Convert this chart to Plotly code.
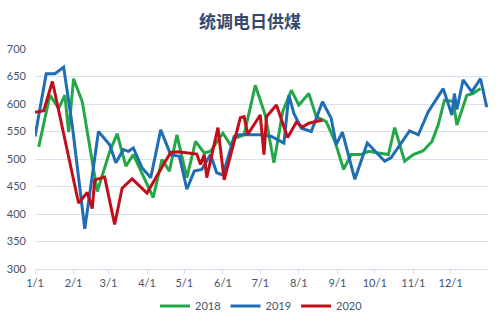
import pandas as pd
import plotly.graph_objects as go

# day-of-year offsets (0 = Jan 1) and values
days_2018 = [3, 12, 19, 24, 27, 31, 38, 50, 60, 66, 73, 79, 95, 102, 108, 114, 122, 129, 136, 141,
             151, 157, 161, 168, 177, 185, 192, 199, 206, 212, 220, 226, 234, 241, 248, 254, 262,
             268, 276, 284, 289, 297, 304, 312, 319, 324, 329, 336, 339, 347, 352, 358]
vals_2018 = [522, 616, 592, 616, 549, 646, 604, 441, 513, 546, 487, 508, 430, 499, 478, 544, 466, 532, 511, 514,
             547, 526, 538, 544, 634, 580, 493, 586, 625, 598, 619, 577, 568, 532, 481, 508, 508,
             514, 511, 508, 557, 496, 508, 515, 532, 562, 607, 605, 562, 616, 619, 628]

days_2019 = [0, 9, 16, 23, 30, 40, 51, 60, 65, 71, 75, 79, 86, 93, 101, 109, 116, 122, 128, 134, 141,
             146, 151, 160, 164, 181, 190, 200, 204, 208, 214, 222, 231, 238, 242, 247, 257, 267,
             281, 286, 301, 308, 316, 328, 335, 337, 339, 344, 351, 358, 363]
vals_2019 = [541, 655, 655, 667, 560, 373, 550, 526, 493, 517, 514, 520, 484, 466, 553, 508, 505, 445, 478, 481, 508,
             475, 471, 541, 544, 544, 541, 529, 616, 583, 556, 550, 604, 574, 526, 549, 463, 529,
             496, 502, 551, 544, 586, 628, 580, 619, 590, 644, 622, 646, 594]

days_2020 = [0, 7, 14, 35, 42, 46, 48, 56, 64, 70, 78, 90, 103, 109, 115, 130, 133, 136, 138, 147,
             152, 165, 168, 171, 181, 184, 186, 194, 203, 210, 215, 220, 231]
vals_2020 = [585, 588, 641, 420, 439, 410, 462, 467, 381, 447, 464, 438, 489, 512, 513, 509, 490, 508, 466, 557,
             462, 575, 577, 545, 580, 508, 577, 598, 539, 567, 558, 565, 571]

series = [("2018", days_2018, vals_2018, "#24a847"),
          ("2019", days_2019, vals_2019, "#1f6db4"),
          ("2020", days_2020, vals_2020, "#c00f1b")]

base = pd.Timestamp("2018-01-01")
fig = go.Figure()
for name, d, v, c in series:
    x = [base + pd.Timedelta(days=k) for k in d]
    fig.add_trace(go.Scatter(x=x, y=v, mode="lines", name=name,
                             line=dict(color=c, width=3)))

tick_vals = [pd.Timestamp(f"2018-{m:02d}-01") for m in range(1, 13)]
tick_text = [f"{m}/1" for m in range(1, 13)]

fig.update_layout(
    width=500, height=325,
    margin=dict(l=35, r=12, t=49, b=56, autoexpand=False),
    paper_bgcolor="white", plot_bgcolor="white",
    title=dict(text="<b>统调电日供煤</b>", x=0.5, xanchor="center", y=0.932, yanchor="middle",
               font=dict(family="Noto Sans CJK SC", size=17, color="#34496d")),
    font=dict(family="Lato, Liberation Sans, sans-serif", size=11, color="#44546a"),
    showlegend=True,
    legend=dict(orientation="h", x=0.5, xanchor="center", y=-0.168, yanchor="middle",
                font=dict(size=11, color="#44546a"), itemwidth=30, tracegroupgap=0),
)
fig.update_xaxes(range=[base, pd.Timestamp("2018-12-31")], tickvals=tick_vals, ticktext=tick_text,
                 showgrid=False, showline=True, linecolor="#d9dfec", linewidth=1,
                 ticks="outside", ticklen=4, tickcolor="#d9dfec", zeroline=False)
fig.update_yaxes(range=[300, 700], dtick=50, showgrid=True, gridcolor="#d9dfec", gridwidth=1,
                 zeroline=False, showline=False, ticks="", ticklabelstandoff=8)

fig.write_html("out.html")
